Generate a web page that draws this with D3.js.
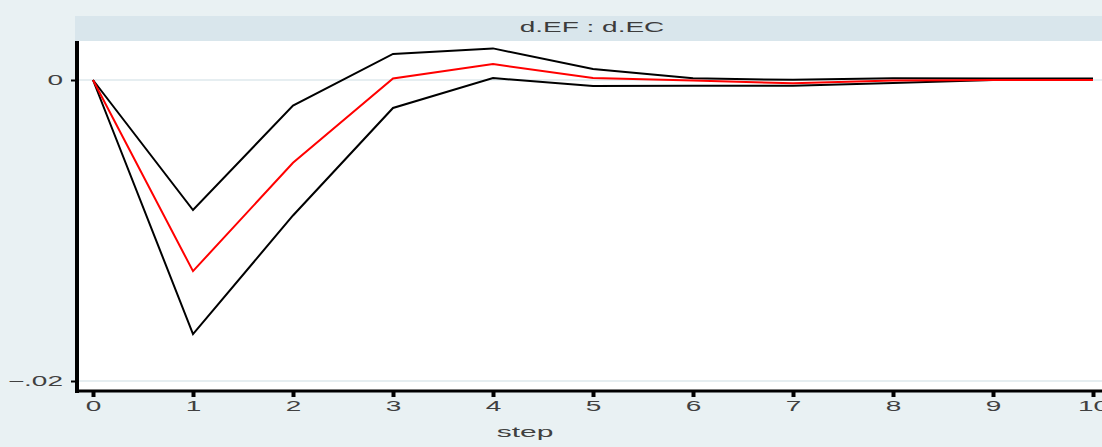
<!DOCTYPE html>
<html>
<head>
<meta charset="utf-8">
<script src="https://cdn.jsdelivr.net/npm/d3@7"></script>
<style>
  body { margin: 0; background: #e9f1f3; }
  svg { display: block; font-family: "Liberation Sans", Arial, sans-serif; }
</style>
</head>
<body>
<div id="chart"></div>
<script>
const WIDTH = 1102;
const HEIGHT = 447;

// impulse response d.EF : d.EC, steps 0..10
const steps = [0, 1, 2, 3, 4, 5, 6, 7, 8, 9, 10];
const irf = [0, -0.0127, -0.0055, 0.0001, 0.00106, 0.00013, -0.00004, -0.00022, -0.00004, 0, 0];
const upper = [0, -0.00864, -0.0017, 0.00173, 0.0021, 0.00073, 0.00011, 0.00001, 0.00011, 0.0001, 0.0001];
const lower = [0, -0.01688, -0.0090, -0.00186, 0.00013, -0.0004, -0.00038, -0.00038, -0.0002, 0, 0];
const yTicks = [-0.02, 0];
const title = "d.EF : d.EC";

let svg = d3
  .select("#chart")
  .append("svg")
  .attr("width", WIDTH)
  .attr("height", HEIGHT);

//background
svg.append("rect").attr("width", WIDTH).attr("height", HEIGHT).attr("fill", "#e9f1f3");

//plot region + header strip
svg.append("rect").attr("x", 75).attr("y", 16).attr("width", WIDTH - 75).attr("height", 25).attr("fill", "#d9e6ec");
svg.append("rect").attr("x", 79).attr("y", 41).attr("width", WIDTH - 79).attr("height", 349).attr("fill", "#ffffff");

let x = d3.scaleLinear().domain([0, 10]).range([93, 1093]);
let y = d3.scaleLinear().domain([-0.02, 0]).range([381, 80]);

//gridlines
svg
  .append("g")
  .selectAll("line")
  .data(yTicks)
  .enter()
  .append("line")
  .attr("x1", 79)
  .attr("x2", WIDTH)
  .attr("y1", (d) => y(d))
  .attr("y2", (d) => y(d))
  .attr("stroke", "#e6eef1")
  .attr("stroke-width", 2);

//title (text in the original is stretched sideways)
svg
  .append("text")
  .attr("transform", "translate(592,32) scale(2,1)")
  .attr("text-anchor", "middle")
  .attr("font-size", 14)
  .attr("fill", "#3c3c3c")
  .text(title);

//lines
let line = d3
  .line()
  .x((d, i) => x(steps[i]))
  .y((d) => y(d));

[
  { values: lower, color: "#000000" },
  { values: upper, color: "#000000" },
  { values: irf, color: "#ff0000" },
].forEach((s) => {
  svg
    .append("path")
    .datum(s.values)
    .attr("d", line)
    .attr("fill", "none")
    .attr("stroke", s.color)
    .attr("stroke-width", 2)
    .attr("stroke-linejoin", "miter");
});

//x axis
let xAxis = svg
  .append("g")
  .attr("transform", "translate(0,392)")
  .call(d3.axisBottom(x).tickValues(steps).tickSize(5).tickFormat(d3.format("d")));
xAxis.select(".domain").remove();
xAxis.selectAll(".tick line").attr("stroke", "#000").attr("stroke-width", 4);
xAxis
  .selectAll(".tick text")
  .attr("y", 19)
  .attr("dy", 0)
  .attr("transform", "scale(2,1)")
  .attr("font-size", 14)
  .attr("font-family", null)
  .attr("fill", "#404040");

//y axis
let yAxis = svg
  .append("g")
  .attr("transform", "translate(75,0)")
  .call(
    d3
      .axisLeft(y)
      .tickValues(yTicks)
      .tickSize(4)
      .tickFormat((d) => (d === 0 ? "0" : d3.format(".2f")(d).replace("0.", ".")))
  );
yAxis.select(".domain").remove();
yAxis.selectAll(".tick line").attr("stroke", "#000").attr("stroke-width", 2);
yAxis
  .selectAll(".tick text")
  .attr("x", -6)
  .attr("transform", "scale(2,1)")
  .attr("font-size", 14)
  .attr("font-family", null)
  .attr("fill", "#404040");

//axis lines
svg.append("line").attr("x1", 77).attr("x2", 77).attr("y1", 41).attr("y2", 393).attr("stroke", "#000").attr("stroke-width", 4);
svg.append("line").attr("x1", 75).attr("x2", WIDTH).attr("y1", 391).attr("y2", 391).attr("stroke", "#000").attr("stroke-width", 3);

//x axis title
svg
  .append("text")
  .attr("transform", "translate(525,437) scale(2,1)")
  .attr("text-anchor", "middle")
  .attr("font-size", 15)
  .attr("fill", "#404040")
  .text("step");
</script>
</body>
</html>
